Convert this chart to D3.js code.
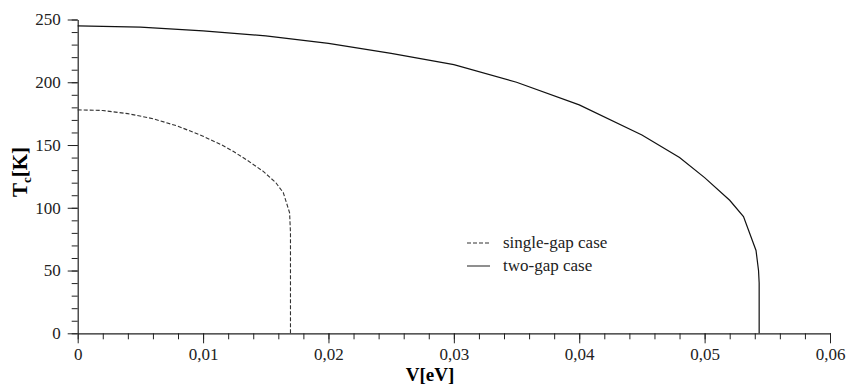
<!DOCTYPE html>
<html>
<head>
<meta charset="utf-8">
<script src="https://cdn.jsdelivr.net/npm/d3@7"></script>
<style>
  body { margin: 0; background: #fff; }
</style>
</head>
<body>
<svg id="chart" width="846" height="385"></svg>
<script>
// single-gap case (dashed)
const singleV = [0, 0.002, 0.004, 0.006, 0.008, 0.01, 0.0115, 0.0124, 0.0135, 0.0148, 0.0158, 0.0164, 0.0169, 0.01697, 0.01697];
const singleT = [178, 177.5, 175, 171, 165, 157, 150, 145, 138, 129, 120, 112, 96, 80, 0];

// two-gap case (solid)
const twoV = [0, 0.005, 0.01, 0.015, 0.02, 0.025, 0.03, 0.035, 0.04, 0.045, 0.048, 0.05, 0.052, 0.0531, 0.0541, 0.0543, 0.05435, 0.05435];
const twoT = [245, 244, 241, 237, 231, 223, 214, 200, 182, 158, 140, 124, 106, 93, 66, 50, 40, 0];

const xTicks = [0, 0.01, 0.02, 0.03, 0.04, 0.05, 0.06];
const yTicks = [0, 50, 100, 150, 200, 250];
const legendLabels = ["single-gap case", "two-gap case"];

const serif = "'Liberation Serif', 'Times New Roman', 'DejaVu Serif', serif";

const svg = d3.select("#chart").style("font-family", serif);
const plotL = 77.7, plotR = 830, plotT = 19.5, plotB = 333.3;

const x = d3.scaleLinear().domain([0, 0.06]).range([plotL, plotR]);
const y = d3.scaleLinear().domain([0, 250]).range([plotB, plotT]);

const fmt = d => d === 0 ? "0" : d3.format(".2f")(d).replace(".", ",");

// minor ticks
svg.append("g")
  .attr("transform", `translate(0,${plotB})`)
  .call(d3.axisBottom(x).tickValues(d3.range(0, 0.0601, 0.002)).tickSize(6).tickFormat(""))
  .call(g => g.select(".domain").remove())
  .selectAll("line").attr("stroke", "#222");
svg.append("g")
  .attr("transform", `translate(${plotL},0)`)
  .call(d3.axisLeft(y).tickValues(d3.range(0, 251, 10)).tickSize(6).tickFormat(""))
  .call(g => g.select(".domain").remove())
  .selectAll("line").attr("stroke", "#222");

// major axes
const xAxis = svg.append("g")
  .attr("transform", `translate(0,${plotB})`)
  .call(d3.axisBottom(x).tickValues(xTicks).tickSize(10).tickSizeOuter(0).tickPadding(5).tickFormat(fmt));
const yAxis = svg.append("g")
  .attr("transform", `translate(${plotL},0)`)
  .call(d3.axisLeft(y).tickValues(yTicks).tickSize(10).tickSizeOuter(0).tickPadding(7));

[xAxis, yAxis].forEach(a => {
  a.attr("font-family", null);
  a.select(".domain").attr("stroke", "#222").attr("stroke-width", 1.2);
  a.selectAll(".tick line").attr("stroke", "#222");
  a.selectAll("text")
    .style("font-family", serif)
    .style("font-size", "17px")
    .attr("fill", "#222");
});

// axis titles
svg.append("text")
  .attr("x", 430).attr("y", 381)
  .attr("text-anchor", "middle")
  .style("font-family", serif)
  .style("font-size", "19px").style("font-weight", "bold")
  .text("V[eV]");

const yl = svg.append("text")
  .attr("transform", "translate(27,172) rotate(-90)")
  .attr("text-anchor", "middle")
  .style("font-family", serif)
  .style("font-size", "21px").style("font-weight", "bold");
yl.append("tspan").text("T");
yl.append("tspan").style("font-size", "13px").attr("dy", 4).text("c");
yl.append("tspan").attr("dy", -4).text("[K]");

// curves
const line = d3.line().x(d => x(d[0])).y(d => y(d[1]));

svg.append("path")
  .datum(singleV.map((v, i) => [v, singleT[i]]))
  .attr("d", line)
  .attr("fill", "none")
  .attr("stroke", "#333")
  .attr("stroke-width", 1.1)
  .attr("stroke-dasharray", "4,2");

svg.append("path")
  .datum(twoV.map((v, i) => [v, twoT[i]]))
  .attr("d", line)
  .attr("fill", "none")
  .attr("stroke", "#111")
  .attr("stroke-width", 1.2);

// legend
const legend = svg.append("g");
legendLabels.forEach((label, i) => {
  const ly = 243 + i * 23;
  legend.append("line")
    .attr("x1", 467).attr("x2", 490)
    .attr("y1", ly).attr("y2", ly)
    .attr("stroke", "#333")
    .attr("stroke-width", 1.1)
    .attr("stroke-dasharray", i === 0 ? "4,2" : null);
  legend.append("text")
    .attr("x", 503).attr("y", ly + 5)
    .style("font-family", serif)
    .style("font-size", "17px")
    .attr("fill", "#222")
    .text(label);
});
</script>
</body>
</html>
